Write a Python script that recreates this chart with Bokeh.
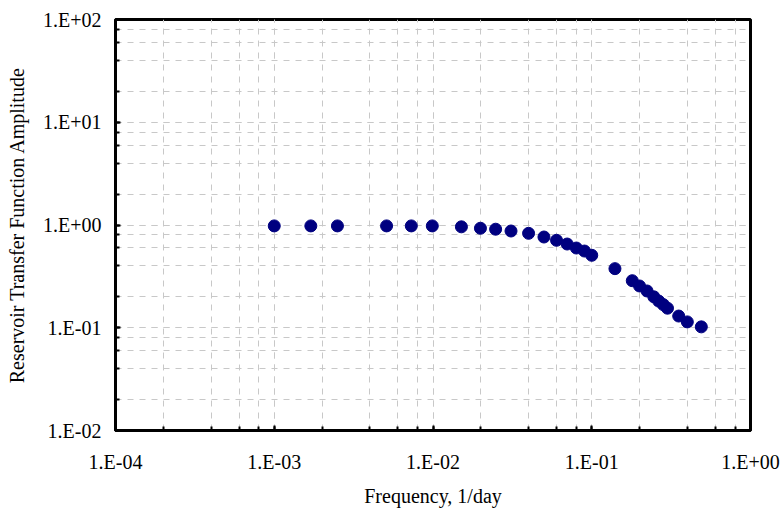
from bokeh.plotting import figure
from bokeh.models import CustomJSTickFormatter, LogTicker, ColumnDataSource
from bokeh.embed import file_html
from bokeh.resources import INLINE

frequency = [0.001, 0.0017, 0.0025, 0.0051, 0.0073, 0.0099, 0.0151, 0.0199, 0.0248,
             0.031, 0.040, 0.050, 0.060, 0.070, 0.080, 0.090, 0.100, 0.140, 0.180,
             0.200, 0.223, 0.246, 0.264, 0.282, 0.300, 0.353, 0.400, 0.490]
amplitude = [0.98, 0.98, 0.98, 0.98, 0.98, 0.98, 0.96, 0.93, 0.91,
             0.874, 0.830, 0.764, 0.710, 0.653, 0.597, 0.558, 0.507, 0.376, 0.287,
             0.255, 0.228, 0.200, 0.182, 0.168, 0.155, 0.130, 0.114, 0.102]

x_label = "Frequency, 1/day"
y_label = "Reservoir Transfer Function Amplitude"

src = ColumnDataSource(dict(f=frequency, a=amplitude))

p = figure(width=780, height=510, x_axis_type="log", y_axis_type="log",
           x_range=(1e-4, 1.0), y_range=(1e-2, 1e2),
           output_backend="svg", toolbar_location=None,
           min_border_left=115, min_border_right=30, min_border_top=19, min_border_bottom=80)
p.background_fill_color = "white"
p.border_fill_color = "white"
p.outline_line_color = "black"
p.outline_line_width = 3

p.scatter("f", "a", source=src, size=12, color="#000080", marker="circle")

fmt = CustomJSTickFormatter(code="""
const e = Math.round(Math.log10(tick));
const s = e < 0 ? '-' : '+';
const a = Math.abs(e);
return '1.E' + s + (a < 10 ? '0' : '') + a;
""")

p.xaxis.ticker = LogTicker(desired_num_ticks=5)
p.yaxis.ticker = LogTicker(desired_num_ticks=5)

for ax in (p.xaxis[0], p.yaxis[0]):
    ax.formatter = fmt
    ax.axis_line_color = "black"
    ax.axis_line_width = 3
    ax.major_tick_in = 5
    ax.major_tick_out = 0
    ax.minor_tick_in = 4
    ax.minor_tick_out = 0
    ax.major_tick_line_color = "black"
    ax.major_tick_line_width = 2
    ax.minor_tick_line_color = "black"
    ax.minor_tick_line_width = 2
    ax.major_label_text_font = "Liberation Serif"
    ax.major_label_text_font_size = "20px"
    ax.major_label_text_color = "black"
    ax.axis_label_text_font = "Liberation Serif"
    ax.axis_label_text_font_size = "20px"
    ax.axis_label_text_font_style = "normal"
    ax.axis_label_text_color = "black"

p.xaxis.axis_label = x_label
p.yaxis.axis_label = y_label
p.xaxis.major_label_standoff = 20
p.xaxis.axis_label_standoff = 9
p.yaxis.major_label_standoff = 14
p.yaxis.axis_label_standoff = 12

for g in (p.xgrid[0], p.ygrid[0]):
    g.grid_line_color = "#c8c8c8"
    g.grid_line_dash = "6 6"
    g.grid_line_width = 1
    g.minor_grid_line_color = "#c8c8c8"
    g.minor_grid_line_dash = "6 6"
    g.minor_grid_line_width = 1

open("out.html", "w").write(file_html(p, INLINE))
